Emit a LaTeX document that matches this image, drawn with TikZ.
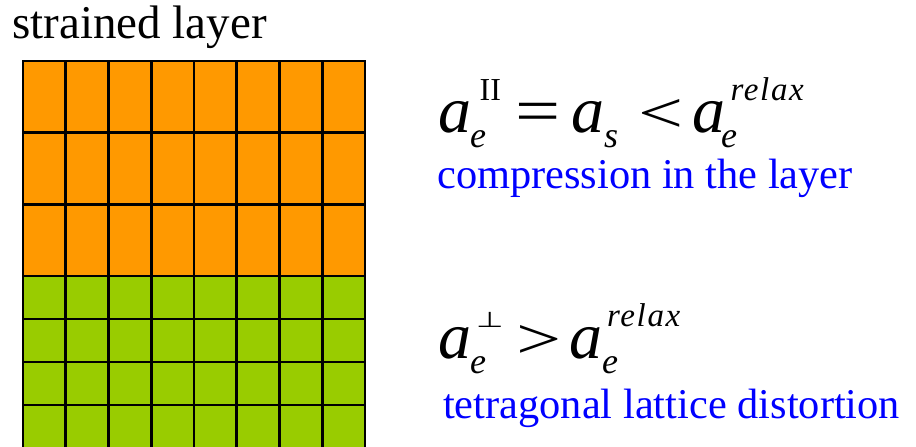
\documentclass[tikz,border=0pt]{standalone}
\usepackage{fontspec}
\setmainfont{Liberation Serif}
\newfontfamily\symfont{DejaVu Sans}
\usetikzlibrary{positioning}
\usepackage{xcolor}
\definecolor{layerorange}{HTML}{FF9900}
\definecolor{subgreen}{HTML}{99CC00}
\definecolor{noteblue}{HTML}{0000FF}

% pieces of the lattice relations
\newcommand{\latA}{{\fontsize{66}{66}\selectfont\itshape a}}
\newcommand{\idx}[1]{{\fontsize{36}{36}\selectfont\itshape #1}}
\newcommand{\supII}{{\fontsize{32}{32}\selectfont II}}
\newcommand{\supperp}{{\fontsize{30}{30}\symfont\scalebox{1.05}[0.72]{⊥}}}
\newcommand{\suprelax}{{\fontsize{33}{33}\selectfont\itshape\addfontfeature{LetterSpace=5}relax}}
\newcommand{\releq}{{\fontsize{64}{64}\selectfont\scalebox{1.25}[1]{=}}}
\newcommand{\relcmp}[1]{{\fontsize{64}{64}\selectfont\scalebox{1.25}[0.9]{#1}}}
% put a piece at a given shift from the node start
\newcommand{\putat}[3]{\rlap{\kern#1pt\raisebox{#2pt}{#3}}}

\begin{document}
\begin{tikzpicture}[x=1pt, y=-1pt,
    cell/.style={draw=black, line width=2.6pt},
    title/.style={font=\fontsize{47}{50}\selectfont, inner sep=0pt},
    rel/.style={inner sep=0pt},
    note/.style={text=noteblue, font=\fontsize{42.4}{45}\selectfont, inner sep=0pt}]
    \useasboundingbox (0,0) rectangle (916,447);
    \node[title, anchor=base west] (head) at (12,38) {strained layer};
    % strained layer: 3 tall rows
    \foreach \c in {0,...,7}
      \foreach \r in {0,1,2}
        \draw[cell, fill=layerorange] (23+42.75*\c, 61+71.67*\r) rectangle ++(42.75,71.67);
    % substrate: 4 square rows
    \foreach \c in {0,...,7}
      \foreach \r in {0,...,3}
        \draw[cell, fill=subgreen] (23+42.75*\c, 276+43*\r) rectangle ++(42.75,43);
    \node[rel, anchor=base west] (inplane) at (437,132)
      {\putat{1.5}{0}{\latA}\putat{33}{-15}{\idx{e}}\putat{42.5}{32}{\supII}%
       \putat{78}{0}{\releq}%
       \putat{134}{0}{\latA}\putat{167}{-15}{\idx{s}}%
       \putat{201}{0}{\relcmp{<}}%
       \putat{255}{0}{\latA}\putat{284}{-15}{\idx{e}}\putat{293.5}{32}{\suprelax}%
       \kern376pt};
    \node[note, anchor=base west] (compr) at (437,188) {compression in the layer};
    \node[rel, anchor=base west] (outplane) at (437,358)
      {\putat{1.5}{0}{\latA}\putat{33}{-15}{\idx{e}}\putat{39}{31}{\supperp}%
       \putat{79}{0}{\relcmp{>}}%
       \putat{132.5}{0}{\latA}\putat{165}{-15}{\idx{e}}\putat{170}{32}{\suprelax}%
       \kern252pt};
    \node[note, anchor=base west] (tetra) at (443,418) {tetragonal lattice distortion};
\end{tikzpicture}
\end{document}
